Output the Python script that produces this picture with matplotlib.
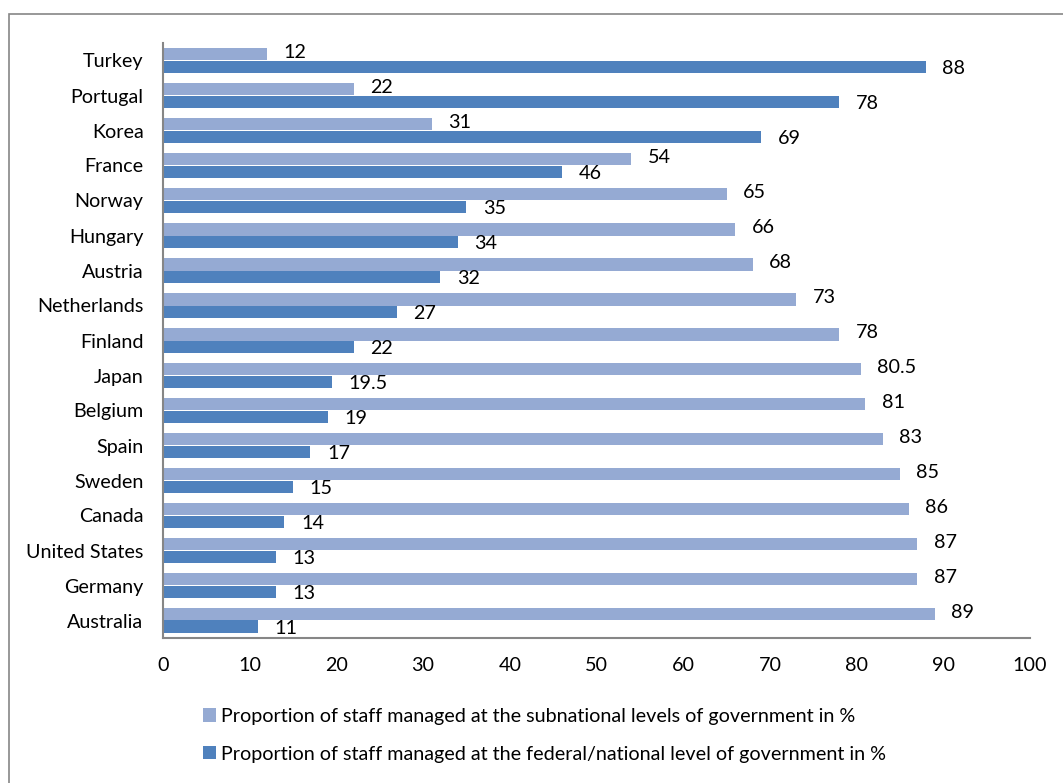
import numpy as np
import matplotlib.pyplot as plt
from matplotlib.patches import Rectangle

plt.rcParams['font.family'] = ['Lato', 'DejaVu Sans']

countries = ['Turkey', 'Portugal', 'Korea', 'France', 'Norway', 'Hungary', 'Austria',
             'Netherlands', 'Finland', 'Japan', 'Belgium', 'Spain', 'Sweden', 'Canada',
             'United States', 'Germany', 'Australia']
subnational = [12, 22, 31, 54, 65, 66, 68, 73, 78, 80.5, 81, 83, 85, 86, 87, 87, 89]
federal = [88, 78, 69, 46, 35, 34, 32, 27, 22, 19.5, 19, 17, 15, 14, 13, 13, 11]

sub_label = 'Proportion of staff managed at the subnational levels of government in %'
fed_label = 'Proportion of staff managed at the federal/national level of government in %'

light = '#95AAD3'
dark = '#4F81BD'
gray = '#868686'
fs = 14.2

W, H = 1063, 783
fig = plt.figure(figsize=(W / 100, H / 100), dpi=100)

# outer chart frame (runs off the right and bottom edges)
fig.patches.append(Rectangle((9 / W, -0.2), 1.2, 1.2 - 14 / H, transform=fig.transFigure,
                             fill=False, edgecolor=gray, linewidth=1.2))

ax = fig.add_axes([163 / W, 1 - 638 / H, (1030 - 163) / W, (638 - 43) / H])

y = np.arange(len(countries))
h = 0.37
ax.barh(y - h / 2, subnational, height=h, color=light, label=sub_label)
ax.barh(y + h / 2, federal, height=h, color=dark, label=fed_label)

for yi, s, f in zip(y, subnational, federal):
    ax.text(s + 1.9, yi - h / 2 - 0.04, f'{s:g}', va='center', ha='left', fontsize=fs)
    ax.text(f + 1.9, yi + h / 2 + 0.04, f'{f:g}', va='center', ha='left', fontsize=fs)

ax.set_xlim(0, 100)
ax.set_ylim(len(countries) - 0.5, -0.5)
ax.set_xticks(range(0, 101, 10))
ax.set_yticks(y)
ax.set_yticklabels(countries)
ax.tick_params(axis='both', length=0, labelsize=fs)
ax.tick_params(axis='x', pad=14)
ax.tick_params(axis='y', pad=14)
for side in ['top', 'right']:
    ax.spines[side].set_visible(False)
for side in ['left', 'bottom']:
    ax.spines[side].set_color(gray)
    ax.spines[side].set_linewidth(1.5)

fig.legend(loc='upper left', bbox_to_anchor=(195 / W, 1 - 700 / H), ncol=1, frameon=False,
           fontsize=fs, handlelength=0.65, handleheight=0.65, handletextpad=0.25,
           labelspacing=1.05, borderaxespad=0)

fig.savefig('out.png', dpi=100)
